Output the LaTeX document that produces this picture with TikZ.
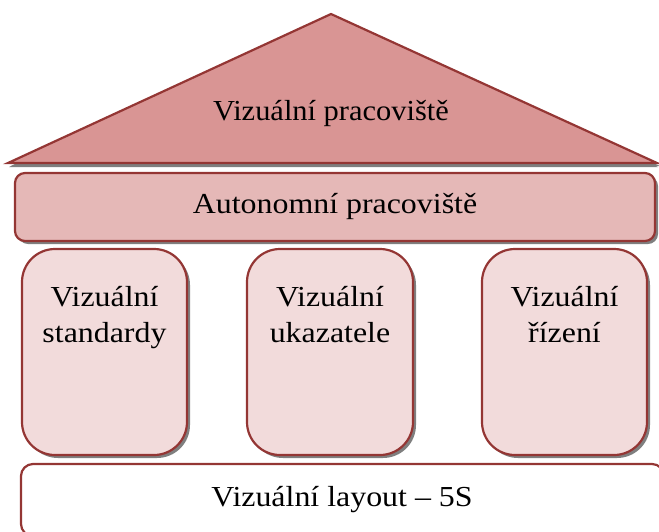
\documentclass[tikz,border=0pt]{standalone}
\usepackage{fontspec}
\setmainfont{Liberation Serif}[FakeStretch=1.1]
\usetikzlibrary{shadows}
\definecolor{edgered}{HTML}{943634}
\definecolor{roofred}{HTML}{D99594}
\definecolor{beamred}{HTML}{E5B8B7}
\definecolor{pillarred}{HTML}{F2DBDB}
\definecolor{shadowgray}{HTML}{7F7F7F}
\tikzset{
  part/.style={draw=edgered, line width=2.2pt,
    drop shadow={shadow xshift=3pt, shadow yshift=-3pt, fill=shadowgray, opacity=1}},
  label/.style={font=\fontsize{29}{36}\selectfont, align=center, inner sep=0pt, anchor=base},
}
\begin{document}
\begin{tikzpicture}[x=1pt,y=-1pt]
\useasboundingbox (0,0) rectangle (659,531);
% roof
\path[part, fill=roofred, drop shadow={shadow xshift=1pt, shadow yshift=-4pt, fill=shadowgray, opacity=1}]
  (8,163) -- (331,14) -- (657,163) -- cycle;
\node[label, font=\fontsize{29}{36}\selectfont\addfontfeatures{FakeStretch=1.05}] (roof) at (331,120) {Vizuální pracoviště};
% beam
\path[part, fill=beamred, rounded corners=10pt] (15,173) rectangle (655,241);
\node[label] (beam) at (335,213) {Autonomní pracoviště};
% pillars
\path[part, fill=pillarred, rounded corners=33pt] (22,249) rectangle (187,455);
\path[part, fill=pillarred, rounded corners=33pt] (247,249) rectangle (413,455);
\path[part, fill=pillarred, rounded corners=33pt] (482,249) rectangle (647,455);
\node[label] (p1) at (104.5,342) {Vizuální\\standardy};
\node[label] (p2) at (330,342) {Vizuální\\ukazatele};
\node[label] (p3) at (564.5,342) {Vizuální\\řízení};
% base
\path[draw=edgered, line width=2.2pt, fill=white, rounded corners=12pt] (21,464) rectangle (664,536);
\node[label] (base) at (342,506) {Vizuální layout – 5S};
\end{tikzpicture}
\end{document}
